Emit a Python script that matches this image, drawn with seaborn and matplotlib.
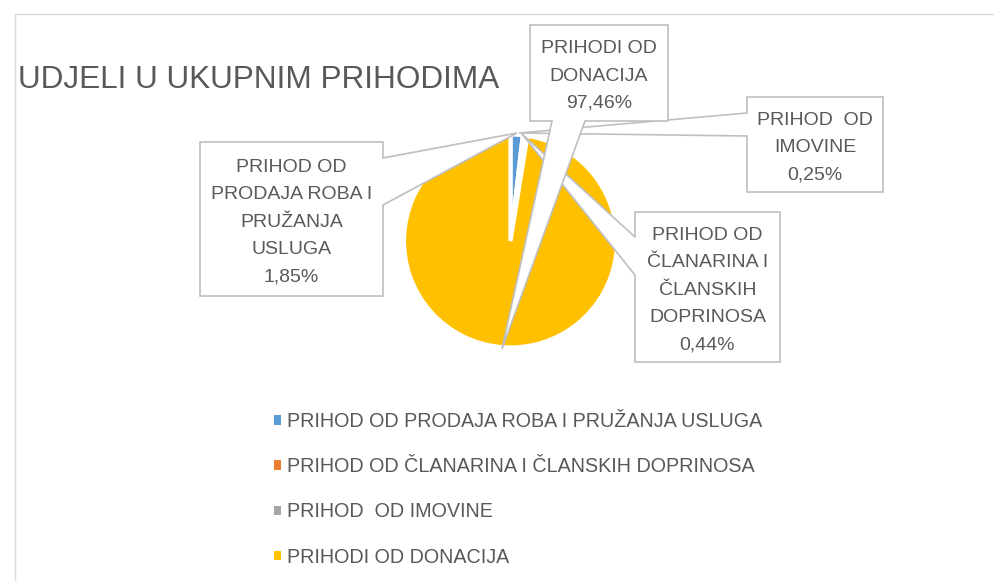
import matplotlib
matplotlib.use('Agg')
import matplotlib.pyplot as plt
import matplotlib.patches as mpatches
import seaborn as sns

# data
categories = ['PRIHOD OD PRODAJA ROBA I PRUŽANJA USLUGA',
              'PRIHOD OD ČLANARINA I ČLANSKIH DOPRINOSA',
              'PRIHOD  OD IMOVINE',
              'PRIHODI OD DONACIJA']
shares = [1.85, 0.44, 0.25, 97.46]
box_texts = ['PRIHOD OD\nPRODAJA ROBA I\nPRUŽANJA\nUSLUGA',
             'PRIHOD OD\nČLANARINA I\nČLANSKIH\nDOPRINOSA',
             'PRIHOD  OD\nIMOVINE',
             'PRIHODI OD\nDONACIJA']
colors = ['#5B9BD5', '#ED7D31', '#A5A5A5', '#FFC000']
title = 'UDJELI U UKUPNIM PRIHODIMA'

sns.set_style('white')
plt.rcParams['font.family'] = ['Liberation Sans', 'DejaVu Sans']

W, H = 995, 581
TXT = '#595959'
EDGE = '#BFBFBF'

fig = plt.figure(figsize=(W / 100, H / 100), dpi=100)
ax = fig.add_axes([0, 0, 1, 1])


def P(x, y):
    # pixel coords (y down) -> data coords
    return (x, H - y)


# pie
wedges, _ = ax.pie(shares, colors=colors, startangle=90, counterclock=False,
                   center=P(510.5, 241), radius=106.5,
                   wedgeprops=dict(edgecolor='white', linewidth=3), frame=True)


def callout(box, side, base, tip, text):
    x0, y0, x1, y1 = box
    a, b = base
    if side == 'right':
        pts = [(x0, y0), (x1, y0), (x1, a), tip, (x1, b), (x1, y1), (x0, y1)]
    elif side == 'left':
        pts = [(x0, y0), (x1, y0), (x1, y1), (x0, y1), (x0, b), tip, (x0, a)]
    else:  # bottom
        pts = [(x0, y0), (x1, y0), (x1, y1), (b, y1), tip, (a, y1), (x0, y1)]
    poly = mpatches.Polygon([P(*p) for p in pts], closed=True, facecolor='white',
                            edgecolor=EDGE, linewidth=1.2, zorder=3)
    ax.add_patch(poly)
    ax.text(*P((x0 + x1) / 2, (y0 + y1) / 2 + 3), text, ha='center', va='center',
            multialignment='center', fontsize=14, color=TXT, linespacing=1.8,
            zorder=4)


labels = [t + '\n' + f'{v:.2f}%'.replace('.', ',') for t, v in zip(box_texts, shares)]
callout((200, 142, 383, 296), 'right', (158, 205), (517, 133), labels[0])
callout((635, 212, 780, 362), 'left', (237, 275), (522, 134), labels[1])
callout((747, 97, 883, 192), 'left', (113, 136), (519, 133), labels[2])
callout((530, 25, 668, 121), 'bottom', (552, 585), (502, 349), labels[3])

# chart area border
ax.add_patch(mpatches.Rectangle(P(15, 600), 1000, 586, facecolor='none',
                                edgecolor='#D9D9D9', linewidth=1, zorder=0))

# title
ax.text(*P(18, 80), title, ha='left', va='center', fontsize=22.7, color=TXT,
        zorder=2)

# legend
handles = [mpatches.Patch(facecolor=c, edgecolor='none') for c in colors]
ax.legend(handles, categories, loc='upper left',
          bbox_to_anchor=(274 / W, 1 - 412 / H), bbox_transform=fig.transFigure,
          frameon=False, fontsize=14.2, labelcolor=TXT, handlelength=0.36,
          handleheight=0.36, handletextpad=0.3, labelspacing=1.33,
          borderpad=0, borderaxespad=0)

ax.set_xlim(0, W)
ax.set_ylim(0, H)
ax.set_aspect('equal')
ax.axis('off')

plt.savefig('out.png', dpi=100)
